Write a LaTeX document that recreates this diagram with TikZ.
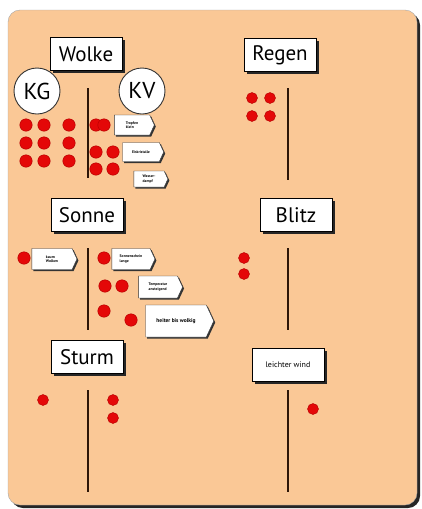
\documentclass[tikz,border=0pt]{standalone}
\usepackage{fontspec}
\setmainfont{PT Sans}
\usepackage{tikz}
\usetikzlibrary{shapes.symbols, shadows}
\definecolor{sandbg}{RGB}{250,200,150}
\definecolor{balkbraun}{RGB}{45,22,8}
\definecolor{punktrot}{RGB}{228,8,8}

\begin{document}
\begin{tikzpicture}[
    x=1pt, y=-1pt,
    karte/.style={rectangle, draw=black, fill=white, inner sep=1pt,
                  minimum width=72pt, minimum height=33pt,
                  drop shadow={shadow xshift=2.5pt, shadow yshift=-2.5pt, opacity=1, fill=black!85},
                  font=\fontsize{21}{22}\selectfont},
    kreis/.style={circle, draw=black!80, line width=0.9pt, fill=white, minimum size=46pt, inner sep=0pt,
                  font=\fontsize{23}{23}\selectfont},
    schild/.style={signal, signal to=east, signal pointer angle=130, draw=black!80, fill=white,
                   drop shadow={shadow xshift=1.5pt, shadow yshift=-1.5pt, opacity=1, fill=black!80},
                   align=left, inner sep=1pt, font=\fontsize{3.8}{4.3}\selectfont\bfseries},
    punkt/.style={circle, fill=punktrot, draw=red!70!black, inner sep=0pt, minimum size=12.5pt},
    balken/.style={balkbraun, line width=2.6pt},
]
    \useasboundingbox (0,0) rectangle (422,509);
    % Tafel
    \fill[black!85, rounded corners=12pt] (11,13) rectangle (420,508);
    \filldraw[fill=sandbg, draw=black!35, rounded corners=12pt] (8,10) rectangle (417,505);

    % Titelkarten
    \node[karte] (wolke) at (86,54) {Wolke};
    \node[karte] (regen) at (280,55) {Regen};
    \node[karte] (sonne) at (87,215) {Sonne};
    \node[karte] (blitz) at (296,215) {Blitz};
    \node[karte] (sturm) at (87,357) {Sturm};
    \node[karte, font=\fontsize{8}{9}\selectfont] (wind) at (288,365) {leichter wind};

    \node[kreis] (kg) at (37,91) {KG};
    \node[kreis] (kv) at (142,91) {KV};

    % Trennlinien
    \draw[balken] (88,88) -- (88,178);
    \draw[balken] (288,88) -- (288,180);
    \draw[balken] (88,248) -- (88,330);
    \draw[balken] (288,248) -- (288,330);
    \draw[balken] (88,390) -- (88,492);
    \draw[balken] (288,390) -- (288,492);

    % Schilder
    \node[schild, minimum width=40pt, minimum height=20pt] (w1) at (132,125) {Tropfen\\klein};
    \node[schild, minimum width=41pt, minimum height=19pt] (w2) at (141,152) {Eiskristalle};
    \node[schild, minimum width=34pt, minimum height=16pt] (w3) at (149,179) {Wasser-\\dampf};
    \node[schild, minimum width=45pt, minimum height=21pt] (s0) at (52,259) {kaum\\Wolken};
    \node[schild, minimum width=43pt, minimum height=21pt] (s1) at (131,259) {Sonnenschein\\lange};
    \node[schild, minimum width=44pt, minimum height=22pt] (s2) at (158,287) {Temperatur\\ansteigend};
    \node[schild, minimum width=68pt, minimum height=32pt, font=\fontsize{5.5}{6}\selectfont\bfseries] (s3) at (176,321) {heiter bis wolkig};

    % Punkte
    \foreach \px/\py [count=\i] in {26/125, 44/125, 69/125, 26/143, 44/143, 69/143, 26/161, 44/161, 69/161,
                                    96/125, 104/125, 96/152, 113/152, 96/169, 113/169}
        \node[punkt] (wp\i) at (\px,\py) {};
    \foreach \px/\py [count=\i] in {252/98, 270/98, 252/116, 270/116}
        \node[punkt, minimum size=11pt] (rp\i) at (\px,\py) {};
    \foreach \px/\py [count=\i] in {24/258, 104/258, 105/286, 122/286, 104/311, 131/320}
        \node[punkt] (sp\i) at (\px,\py) {};
    \foreach \px/\py [count=\i] in {244/258, 244/274}
        \node[punkt, minimum size=11pt] (bp\i) at (\px,\py) {};
    \foreach \px/\py [count=\i] in {43/400, 113/400, 113/418}
        \node[punkt, minimum size=11pt] (tp\i) at (\px,\py) {};
    \node[punkt, minimum size=11pt] (lp1) at (313,409) {};
\end{tikzpicture}
\end{document}
